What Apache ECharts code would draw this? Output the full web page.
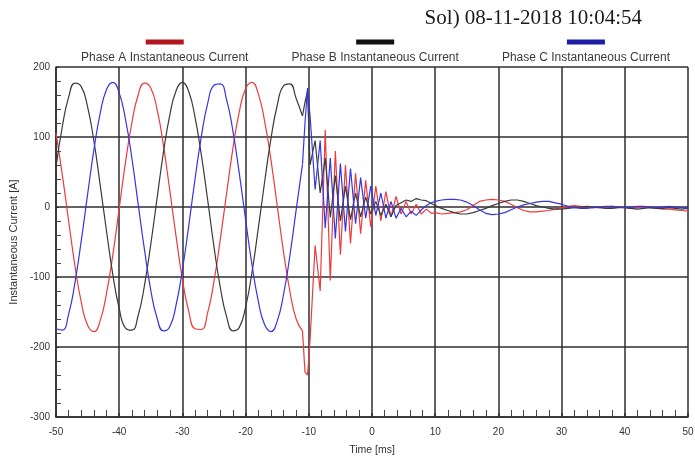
<!DOCTYPE html>
<html>
<head>
<meta charset="utf-8">
<title>Instantaneous Current</title>
<script src="https://cdn.jsdelivr.net/npm/echarts@6/dist/echarts.min.js"></script>
<style>
  html, body { margin: 0; padding: 0; background: #ffffff; }
  #chart { width: 695px; height: 458px; }
</style>
</head>
<body>
<div id="chart"></div>
<script>
// Sample times [ms]: steady state, fault transient, decay tail
const preFaultTime = [-50, -49, -48, -47, -46, -45, -44, -43, -42, -41, -40, -39, -38, -37, -36, -35, -34, -33, -32, -31,
  -30, -29, -28, -27, -26, -25, -24, -23, -22, -21, -20, -19, -18, -17, -16, -15, -14, -13, -12, -11];
const faultTime = [-10.6, -10.2, -9.8, -9.0, -8.2, -7.4, -6.6, -5.8, -5.0, -4.2, -3.4, -2.6, -1.8, -1.0, -0.2,
  0.6, 1.4, 2.2, 3.0, 3.8, 4.6, 5.4, 6.2, 7.0, 7.8, 8.6, 9.4];
const decayTime = [10, 11, 12, 13, 14, 15, 16, 17, 18, 19, 20, 21, 22, 23, 24, 25, 26, 27, 28, 29, 30,
  31, 32, 33, 34, 35, 36, 37, 38, 39, 40, 41, 42, 43, 44, 45, 46, 47, 48, 49, 50];

// Phase A current [A]
const phaseAPre = [106, 46, -20, -84, -136, -169, -178, -162, -123, -68, -2, 64, 120, 160, 177, 170, 139, 88, 24, -42,
  -103, -149, -174, -175, -151, -106, -46, 20, 84, 136, 169, 178, 162, 123, 68, 2, -64, -120, -160, -177];
const phaseAFault = [-236, -240, -190, -55, -120, 110, -105, 80, -68, 60, -52, 48, -38, 38, -28,
  30, -20, 22, -14, 15, -10, 8, -10, 4, -10, -3, -9];
const phaseADecay = [-8, -10, -9, -8, -7, -4, 2, 8, 10, 11, 10, 8, 4, -1, -5, -7, -7, -6, -5, -3, -1,
  1, 2, 1, 0, -1, -1, 0, 1, 0, -1, -2, -1, 0, -1, -2, -3, -3, -4, -5, -6];

// Phase B current [A]
const phaseBPre = [57, 115, 157, 177, 172, 143, 94, 31, -35, -97, -145, -173, -176, -155, -112, -53, 13, 78, 131, 166,
  178, 165, 128, 74, 10, -57, -115, -157, -177, -172, -143, -94, -31, 35, 97, 145, 173, 176, 155, 130];
const phaseBFault = [150, 165, 60, 95, 20, 70, -15, 45, -20, 30, -18, 20, -14, 14, -10,
  8, -12, 4, -14, 2, 6, 10, 8, 12, 10, 9, 5];
const phaseBDecay = [2, -2, -5, -8, -10, -10, -8, -5, -2, 2, 5, 8, 10, 10, 8, 5, 2, 0, -2, -3, -3,
  -2, -1, 0, 1, 0, -1, -2, -2, -1, -1, -2, -3, -2, -1, -2, -2, -1, -2, -3, -2];

// Phase C current [A]
const phaseCPre = [-174, -176, -153, -108, -48, 18, 82, 134, 168, 178, 163, 125, 70, 4, -61, -119, -159, -177, -171, -140,
  -90, -27, 40, 101, 148, 174, 176, 153, 108, 48, -18, -82, -134, -168, -178, -163, -125, -70, -4, 61];
const phaseCFault = [120, 170, 130, 25, 95, -30, 70, -45, 62, -35, 55, -24, 42, -16, 30,
  -12, 20, -16, 8, -16, -2, -14, -6, -12, -4, 2, 6];
const phaseCDecay = [8, 10, 11, 11, 10, 7, 2, -4, -9, -11, -10, -8, -4, 0, 3, 5, 7, 8, 8, 6, 4,
  1, -1, -2, -2, -1, 0, 1, 1, 0, -1, 0, 1, 1, 0, -1, 0, 1, 0, -1, -2];

const seriesNames = ['Phase A Instantaneous Current', 'Phase B Instantaneous Current', 'Phase C Instantaneous Current'];
const xTicks = [-50, -40, -30, -20, -10, 0, 10, 20, 30, 40, 50];
const yTicks = [-300, -200, -100, 0, 100, 200];

// Steady-state part (drawn smooth) and post-fault part (drawn as sampled)
function steadyPairs(pre) {
  return preFaultTime.map((t, i) => [t, pre[i]]);
}
function faultPairs(pre, fault, decay) {
  const times = [preFaultTime[preFaultTime.length - 1]].concat(faultTime, decayTime);
  const values = [pre[pre.length - 1]].concat(fault, decay);
  return times.map((t, i) => [t, values[i]]);
}

const lineColors = ['#ee3a3e', '#3a3a3a', '#3434e6'];
const swatchColors = ['#b3161e', '#111111', '#1c1ca6'];
const swatchKeys = { [seriesNames[0]]: 'swA', [seriesNames[1]]: 'swB', [seriesNames[2]]: 'swC' };
const phases = [
  [phaseAPre, phaseAFault, phaseADecay],
  [phaseBPre, phaseBFault, phaseBDecay],
  [phaseCPre, phaseCFault, phaseCDecay]
];

const series = [];
phases.forEach((p, k) => {
  const common = { name: seriesNames[k], type: 'line', showSymbol: false, color: lineColors[k],
    lineStyle: { width: 1.2, color: lineColors[k] } };
  series.push(Object.assign({}, common, { data: steadyPairs(p[0]), smooth: 0.5 }));
  series.push(Object.assign({}, common, { data: faultPairs(p[0], p[1], p[2]) }));
});

const gridColor = '#2e2e2e';
const chart = echarts.init(document.getElementById('chart'), null, { renderer: 'canvas' });

chart.setOption({
  backgroundColor: '#ffffff',
  animation: false,
  title: {
    text: 'Sol) 08-11-2018 10:04:54',
    right: 48,
    top: 3,
    textStyle: { fontFamily: 'Liberation Serif', fontSize: 21, fontWeight: 'normal', color: '#1a1a1a' }
  },
  legend: {
    data: seriesNames,
    top: 31,
    left: 71,
    itemGap: 38,
    itemWidth: 0,
    itemHeight: 0,
    icon: 'rect',
    selectedMode: false,
    formatter: name => `{${swatchKeys[name]}| }\n{txt|${name}}`,
    textStyle: {
      rich: {
        swA: { width: 38, height: 5, backgroundColor: swatchColors[0], align: 'center', lineHeight: 6 },
        swB: { width: 38, height: 5, backgroundColor: swatchColors[1], align: 'center', lineHeight: 6 },
        swC: { width: 38, height: 5, backgroundColor: swatchColors[2], align: 'center', lineHeight: 6 },
        txt: { fontFamily: 'Liberation Sans', fontSize: 12, color: '#3a3a3a', lineHeight: 19, verticalAlign: 'bottom' }
      }
    }
  },
  grid: { left: 56, right: 7, top: 67, bottom: 41, containLabel: false, outerBoundsMode: 'none' },
  xAxis: {
    type: 'value',
    min: xTicks[0],
    max: xTicks[xTicks.length - 1],
    interval: 10,
    name: 'Time [ms]',
    nameLocation: 'middle',
    nameGap: 28,
    nameTextStyle: { fontFamily: 'Liberation Sans', fontSize: 10.5, color: '#333' },
    axisLine: { show: true, onZero: false, lineStyle: { color: gridColor, width: 1.5 } },
    axisTick: { show: true, inside: true, length: 4, lineStyle: { color: gridColor, width: 1.5 } },
    minorTick: { show: true, splitNumber: 5, length: 7, lineStyle: { color: '#444', width: 1 } },
    axisLabel: { fontFamily: 'Liberation Sans', fontSize: 10, color: '#333', margin: 10, showMinLabel: true, showMaxLabel: true },
    splitLine: { show: true, lineStyle: { color: gridColor, width: 1.5 } }
  },
  yAxis: {
    type: 'value',
    min: yTicks[0],
    max: yTicks[yTicks.length - 1],
    interval: 100,
    name: 'Instantaneous Current [A]',
    nameLocation: 'middle',
    nameGap: 34,
    nameTextStyle: { fontFamily: 'Liberation Sans', fontSize: 11, color: '#333' },
    axisLine: { show: true, onZero: false, lineStyle: { color: gridColor, width: 1.5 } },
    axisTick: { show: true, inside: true, length: 3, lineStyle: { color: gridColor } },
    minorTick: { show: true, splitNumber: 5, length: 5, lineStyle: { color: '#444', width: 1 } },
    axisLabel: { fontFamily: 'Liberation Sans', fontSize: 10, color: '#333', margin: 6 },
    splitLine: { show: true, lineStyle: { color: gridColor, width: 1.5 } }
  },
  series: series
});
</script>
</body>
</html>
